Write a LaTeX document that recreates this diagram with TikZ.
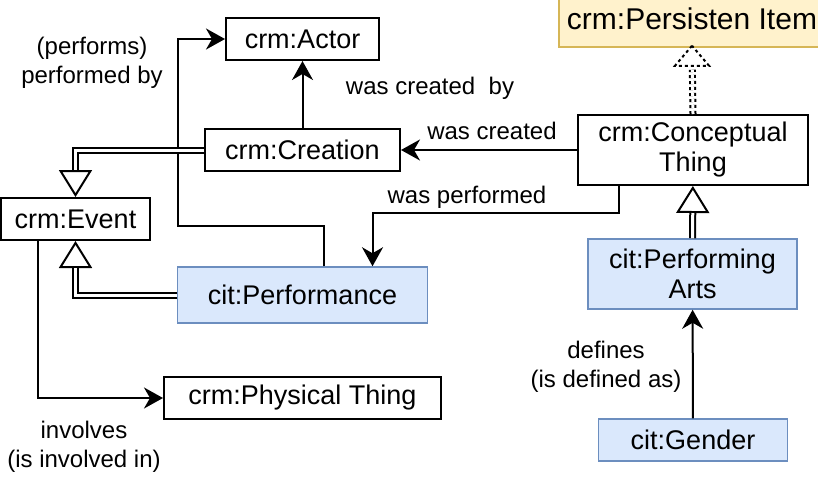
\documentclass[tikz,border=0pt]{standalone}
\usepackage{fontspec}
\setmainfont{Liberation Sans}
\usetikzlibrary{arrows.meta,calc}

\definecolor{ownfill}{HTML}{DAE8FC}
\definecolor{ownline}{HTML}{6C8EBF}
\definecolor{extfill}{HTML}{FFF2CC}
\definecolor{extline}{HTML}{D6B656}

\begin{document}
\begin{tikzpicture}[x=1pt, y=-1pt,
  >={Stealth[length=19pt, width=21pt, inset=6pt]},
  cls/.style={draw, line width=2pt, align=center, inner sep=0pt,
              font=\fontsize{27}{30}\selectfont},
  own/.style={cls, draw=ownline, fill=ownfill, line width=1.5pt},
  ext/.style={cls, draw=extline, fill=extfill, line width=1.5pt},
  lbl/.style={font=\fontsize{24}{29}\selectfont, align=center},
  rel/.style={->, line width=2pt},
  isa/.style={line width=2pt, -{Triangle[open, length=27pt, width=33pt]},
              postaction={draw, -, line width=7pt, shorten >=27pt},
              postaction={draw, -, white, line width=3pt, shorten >=27pt}},
  isadash/.style={dashed, line width=7pt, shorten >=22pt,
              postaction={draw, white, line width=3pt}}]
  \useasboundingbox (0,0) rectangle (818,477);
  % CIDOC-CRM classes
  \node[cls, minimum width=153pt, minimum height=42pt] (actor) at (302.5,39) {crm:Actor};
  \node[cls, minimum width=195pt, minimum height=42pt] (creation) at (302.5,150) {crm:Creation};
  \node[cls, minimum width=149pt, minimum height=42pt] (event) at (75.5,219) {crm:Event};
  \node[cls, minimum width=277pt, minimum height=42pt] (phys) at (302.5,398) {crm:Physical Thing};
  \node[cls, minimum width=230pt, minimum height=70pt] (concept) at (693,150) {crm:Conceptual\\ Thing};
  \node[ext, minimum width=266pt, minimum height=56pt,
        font=\fontsize{30}{33}\selectfont] (persist) at (692,19) {crm:Persisten Item};
  % own classes
  \node[own, minimum width=250pt, minimum height=56pt] (perf) at (302.5,295) {cit:Performance};
  \node[own, minimum width=209pt, minimum height=70pt] (arts) at (692.5,274) {cit:Performing\\ Arts};
  \node[own, minimum width=189pt, minimum height=42pt] (gender) at (693,440) {cit:Gender};
  % relations
  \draw[rel] (creation) -- (actor);
  \draw[rel] (concept) -- (creation);
  \draw[rel] ([xshift=-74pt]concept.south) -- ++(0,27) -| ([xshift=70pt]perf.north);
  \coordinate (bend) at (178,226);
  \draw[rel] ([xshift=21pt]perf.north) |- (bend) |- (actor.west);
  \draw[rel] ([xshift=-38pt]event.south) |- (phys.west);
  \draw[rel] (gender) -- (arts);
  % subclass links
  \draw[isa] (creation.west) -| (event.north);
  \draw[isa] (perf.west) -| (event.south);
  \draw[isa] (arts) -- (concept);
  \draw[isadash] (concept.north) -- (persist.south);
  \draw[dashed, line width=2pt] ([yshift=2pt]persist.south) -- ++(-17,20) -- ++(34,0) -- cycle;
  % relation labels
  \node[lbl] (l-crby) at (430,88) {was created\ \ by};
  \node[lbl] (l-cr) at (492,131) {was created};
  \node[lbl] (l-perf) at (467,197) {was performed};
  \node[lbl] (l-pby) at (92,63) {(performs)\\ performed by};
  \node[lbl] (l-inv) at (84,447) {involves\\ (is involved in)};
  \node[lbl] (l-def) at (606,367) {defines\\ (is defined as)};
\end{tikzpicture}
\end{document}
